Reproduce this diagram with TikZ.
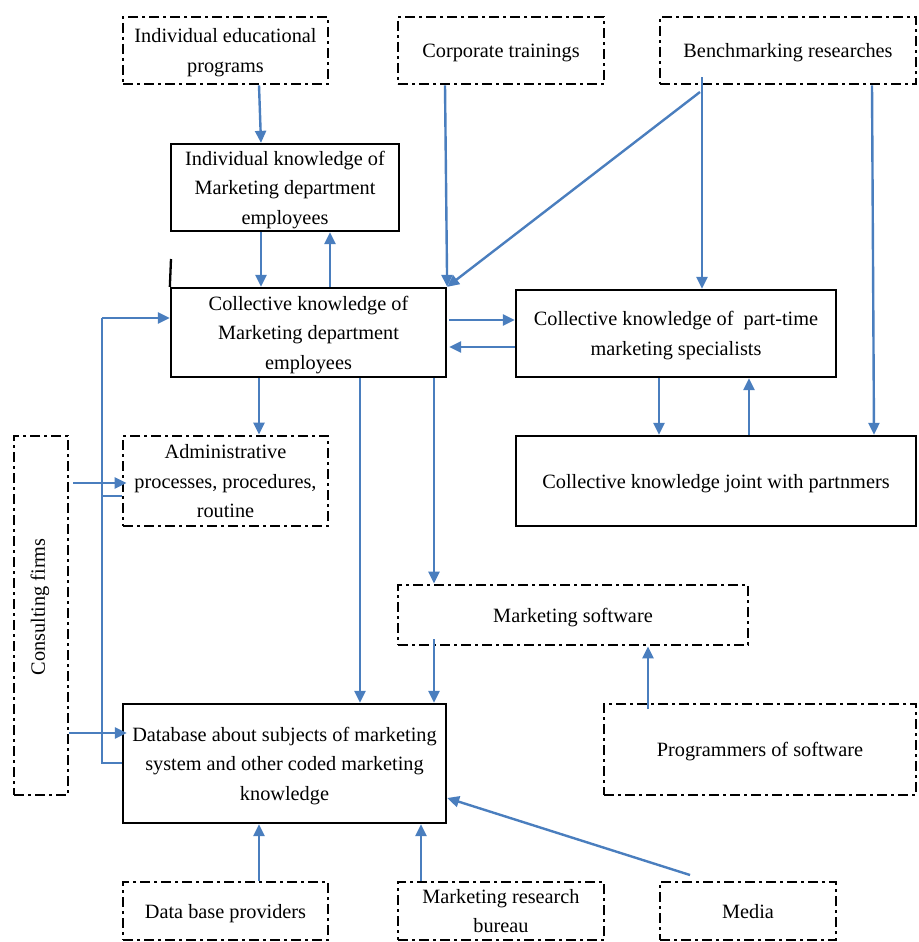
\documentclass[tikz,border=0pt]{standalone}
\usepackage{fontspec}
\setmainfont{Liberation Serif}
\usetikzlibrary{arrows.meta}
\definecolor{arrblue}{RGB}{74,126,190}
\begin{document}
\begin{tikzpicture}[x=1pt,y=-1pt,
  box/.style={draw=black,line width=2.3pt,inner sep=0pt,align=center,text depth=0pt,
    font=\fontsize{20.3}{29.5}\selectfont},
  dbox/.style={box,line width=2.7pt,dash pattern=on 10pt off 4pt on 3pt off 4pt},
  arr/.style={draw=arrblue,line width=2.4pt,-{Triangle[length=12pt,width=11pt]}},
  ln/.style={draw=arrblue,line width=2.4pt}]
\useasboundingbox (0,0) rectangle (918,942);
% boxes
\node[dbox,minimum width=205pt,minimum height=67pt] (iep) at (225.5,50.5) {Individual educational\\programs};
\node[dbox,minimum width=206pt,minimum height=67pt] (ct) at (501,50.5) {Corporate trainings};
\node[dbox,minimum width=256pt,minimum height=67pt] (br) at (788,50.5) {Benchmarking researches};
\node[box,minimum width=228pt,minimum height=87pt] (ik) at (285,187.5) {Individual knowledge of\\Marketing department\\employees};
\node[box,minimum width=275pt,minimum height=89pt] (ck) at (308.5,332.5) {Collective knowledge of\\Marketing department\\employees};
\node[box,minimum width=320pt,minimum height=87pt] (pt) at (676,333.5) {Collective knowledge of \ part-time\\marketing specialists};
\node[box,minimum width=400pt,minimum height=90pt] (jp) at (716,481) {Collective knowledge joint with partnmers};
\node[dbox,minimum width=205pt,minimum height=90pt] (ad) at (225.5,481) {Administrative\\processes, procedures,\\routine};
\node[dbox,minimum width=54pt,minimum height=359pt] (cf) at (41,615.5) {};
\node[rotate=90,font=\fontsize{20.3}{29.5}\selectfont,inner sep=0pt] (cft) at (40,607) {Consulting firms};
\node[dbox,minimum width=350pt,minimum height=60pt] (ms) at (573,615) {Marketing software};
\node[dbox,minimum width=312pt,minimum height=91pt] (pr) at (760,749.5) {Programmers of software};
\node[box,minimum width=323pt,minimum height=119pt] (db) at (284.5,763.5) {Database about subjects of marketing\\system and other coded marketing\\knowledge};
\node[dbox,minimum width=205pt,minimum height=58pt] (dp) at (225.5,911) {Data base providers};
\node[dbox,minimum width=206pt,minimum height=58pt] (mr) at (501,911) {Marketing research\\bureau};
\node[dbox,minimum width=176pt,minimum height=58pt] (me) at (748,911) {Media};
% stray line above collective box
\coordinate (stray) at (171,259);
\draw[line width=2.3pt] (ck.north west) -- (stray);
% arrows
\draw[arr] (iep.south -| 259,0) -- (ik.north -| 261,0);
\draw[arr] (ik.south -| 261,0) -- (ck.north -| 261,0);
\draw[arr] (ck.north -| 330,0) -- (ik.south -| 330,0);
\draw[arr] (ct.south -| 445,0) -- (ck.north east);
\coordinate (bd) at (700,92);
\draw[arr] (bd) -- (ck.north east);
\draw[arr] ([yshift=8pt]br.south -| 702,0) -- (pt.north -| 702,0);
\draw[arr] (br.south -| 872,0) -- (jp.north -| 874,0);
\draw[arr] ([xshift=2pt]ck.east |- 0,320) -- (pt.west |- 0,320);
\draw[arr] (pt.west |- 0,347) -- ([xshift=2pt]ck.east |- 0,347);
\draw[arr] (pt.south -| 659,0) -- (jp.north -| 659,0);
\draw[arr] (jp.north -| 749,0) -- (pt.south -| 749,0);
\draw[arr] (ck.south -| 259,0) -- (ad.north -| 259,0);
\draw[arr] (ck.south -| 360,0) -- (db.north -| 360,0);
\draw[arr] (ck.south -| 434,0) -- (ms.north -| 434,0);
\draw[arr] ([yshift=7pt]ms.south -| 434,0) -- (db.north -| 434,0);
\draw[arr] ([yshift=-6pt]pr.north -| 648,0) -- (ms.south -| 648,0);
\draw[arr] ([xshift=4pt]cf.east |- 0,483) -- ([xshift=5pt]ad.west |- 0,483);
\draw[arr] (cf.east |- 0,733) -- ([xshift=5pt]db.west |- 0,733);
\coordinate (fbtop) at (102,318);
\coordinate (fbbot) at (102,763);
\coordinate (fbmid) at (102,496);
\draw[ln] (db.west |- 0,763) -- (fbbot) -- (fbtop);
\draw[arr] (fbtop) -- (ck.west |- 0,318);
\draw[ln] (ad.west |- 0,496) -- (fbmid);
\draw[arr] (dp.north -| 259,0) -- (db.south -| 259,0);
\draw[arr] (mr.north -| 421,0) -- (db.south -| 421,0);
\coordinate (med) at (690,875);
\draw[arr] (med) -- (db.east |- 0,798);
\end{tikzpicture}
\end{document}
